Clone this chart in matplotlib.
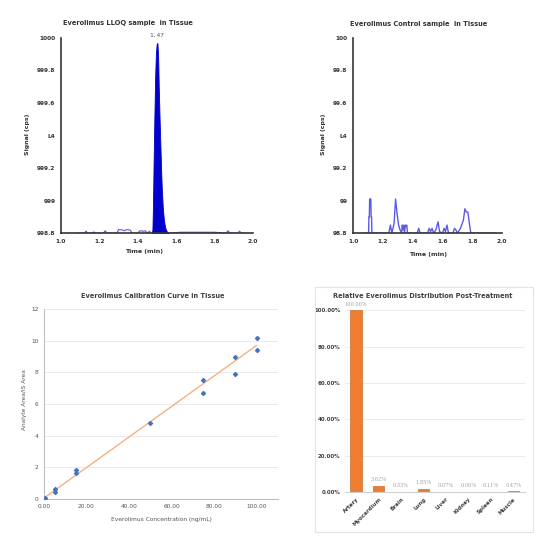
#! /usr/bin/env python3

'''Everolimus chromatograms, calibration curve and tissue distribution.'''

import numpy as np
import matplotlib
matplotlib.use('Agg')
import matplotlib.pyplot as plt
from matplotlib.patches import Rectangle

plt.rcParams['font.family'] = ['DejaVu Sans']

# LLOQ chromatogram: main peak (filled) and baseline noise (outline)
lloq_peak_t = [1.472, 1.476, 1.479, 1.482, 1.486, 1.490, 1.494, 1.498, 1.502,
               1.506, 1.509, 1.513, 1.517, 1.521, 1.525, 1.530, 1.535, 1.540,
               1.546, 1.552, 1.560]
lloq_peak_s = [998.80, 998.82, 998.98, 999.22, 999.50, 999.75, 999.90, 999.96,
               999.97, 999.88, 999.70, 999.52, 999.36, 999.20, 999.07, 998.96,
               998.89, 998.85, 998.82, 998.81, 998.80]
lloq_noise_t = [1.08, 1.12, 1.13, 1.14, 1.16, 1.17, 1.18, 1.22, 1.23, 1.24,
                1.29, 1.30, 1.32, 1.33, 1.34, 1.36, 1.37, 1.40, 1.41, 1.43,
                1.44, 1.45, 1.46, 1.47, 1.56, 1.62, 1.80, 1.86, 1.87, 1.88,
                1.92, 1.93, 1.94, 1.95]
lloq_noise_s = [998.80, 998.80, 998.812, 998.80, 998.80, 998.808, 998.80,
                998.80, 998.815, 998.80, 998.80, 998.822, 998.82, 998.815,
                998.822, 998.82, 998.80, 998.80, 998.815, 998.812, 998.815,
                998.80, 998.812, 998.80, 998.80, 998.806, 998.806, 998.80,
                998.815, 998.80, 998.80, 998.812, 998.80, 998.80]

# Control chromatogram
ctrl_t = [1.07, 1.104, 1.106, 1.109, 1.111, 1.119, 1.121, 1.124, 1.126,
          1.24, 1.25, 1.26, 1.275, 1.285, 1.295, 1.305, 1.315, 1.325, 1.33,
          1.335, 1.34, 1.345, 1.35, 1.355, 1.36, 1.365, 1.43, 1.44, 1.45,
          1.50, 1.51, 1.52, 1.53, 1.54, 1.555, 1.57, 1.58, 1.60, 1.61, 1.62,
          1.63, 1.64, 1.67, 1.68, 1.69, 1.70, 1.72, 1.74, 1.75, 1.76, 1.77,
          1.78, 1.79, 1.95]
ctrl_s = [98.80, 98.80, 98.90, 98.90, 99.01, 99.01, 98.90, 98.90, 98.80,
          98.80, 98.85, 98.80, 98.86, 99.01, 98.92, 98.85, 98.82, 98.80,
          98.85, 98.82, 98.85, 98.80, 98.85, 98.84, 98.85, 98.80, 98.80,
          98.83, 98.80, 98.80, 98.83, 98.81, 98.83, 98.80, 98.82, 98.87,
          98.81, 98.80, 98.83, 98.81, 98.85, 98.80, 98.80, 98.83, 98.82,
          98.80, 98.83, 98.88, 98.95, 98.93, 98.93, 98.86, 98.80, 98.80]

# calibration standards and the trendline
conc = [0.1, 0.5, 5, 5, 15, 15, 50, 75, 75, 90, 90, 100, 100]
ratio = [0.02, 0.08, 0.45, 0.6, 1.65, 1.8, 4.8, 7.5, 6.7, 9.0, 7.9, 10.2, 9.4]
trend_slope = 0.0965
trend_intercept = 0.05

# tissue distribution
tissues = ['Artery', 'Myocardium', 'Brain', 'Lung', 'Liver', 'Kidney',
           'Spleen', 'Muscle']
rel_pct = [100.00, 3.62, 0.33, 1.85, 0.07, 0.06, 0.11, 0.47]

chrom_ticks = ['998.8', '999', '999.2', 'L4', '999.6', '999.8', '1000']
ctrl_ticks = ['98.8', '99', '99.2', 'L4', '99.6', '99.8', '100']


def style_chrom(ax, ymin, labels):
    '''Common look of the two chromatogram panels.'''
    ax.set_xlim(1.0, 2.0)
    ax.set_ylim(ymin, ymin + 1.2)
    ax.set_xticks(np.arange(1.0, 2.01, 0.2))
    ax.set_xticklabels(['%.1f' % v for v in np.arange(1.0, 2.01, 0.2)])
    ax.set_yticks(np.linspace(ymin, ymin + 1.2, 7))
    ax.set_yticklabels(labels)
    for s in ['top', 'right']:
        ax.spines[s].set_visible(False)
    for s in ['left', 'bottom']:
        ax.spines[s].set_color('#333333')
        ax.spines[s].set_linewidth(1.2)
    ax.tick_params(length=0, labelsize=4.2, colors='#333333', pad=4)
    for lab in ax.get_xticklabels() + ax.get_yticklabels():
        lab.set_fontweight('bold')


fig = plt.figure(figsize=(5.5, 5.5), dpi=100)

# --- LLOQ sample ---
ax1 = fig.add_axes([0.111, 0.576, 0.349, 0.355])
ax1.plot(lloq_noise_t, lloq_noise_s, color='#5a5ae6', lw=0.8)
ax1.fill_between(lloq_peak_t, 998.8, lloq_peak_s, color='#0000cc', lw=0.6)
ax1.text(1.50, 1000.0, '1.47', ha='center', va='bottom', fontsize=4.5,
         color='#555555', family='DejaVu Sans Mono')
style_chrom(ax1, 998.8, chrom_ticks)
fig.text(0.233, 0.958, 'Everolimus LLOQ sample  in Tissue', ha='center',
         va='center', fontsize=4.8, fontweight='bold', color='#333333')
fig.text(0.050, 0.755, 'Signal (cps)', rotation=90, ha='center', va='center',
         fontsize=4.5, fontweight='bold', color='#333333')
fig.text(0.262, 0.542, 'Time (min)', ha='center', va='center',
         fontsize=4.5, fontweight='bold', color='#333333')

# --- Control sample ---
ax2 = fig.add_axes([0.642, 0.576, 0.271, 0.355])
ax2.plot(ctrl_t, ctrl_s, color='#5a5ae6', lw=1.0)
style_chrom(ax2, 98.8, ctrl_ticks)
fig.text(0.762, 0.956, 'Everolimus Control sample  in Tissue', ha='center',
         va='center', fontsize=4.8, fontweight='bold', color='#333333')
fig.text(0.589, 0.755, 'Signal (cps)', rotation=90, ha='center', va='center',
         fontsize=4.5, fontweight='bold', color='#333333')
fig.text(0.778, 0.538, 'Time (min)', ha='center', va='center',
         fontsize=4.5, fontweight='bold', color='#333333')

# --- Calibration curve ---
ax3 = fig.add_axes([0.080, 0.093, 0.425, 0.345])
xfit = np.array([0.0, 100.0])
ax3.plot(xfit, trend_slope * xfit + trend_intercept, color='#f4b183',
         lw=1.0, zorder=2)
ax3.scatter(conc, ratio, marker='D', s=4, color='#4472c4', zorder=3)
ax3.set_xlim(0, 110)
ax3.set_ylim(0, 12)
ax3.set_xticks(np.arange(0, 101, 20))
ax3.set_xticklabels(['%.2f' % v for v in np.arange(0, 101, 20)])
ax3.set_yticks(np.arange(0, 13, 2))
ax3.grid(axis='y', color='#e6e6e6', lw=0.6)
ax3.set_axisbelow(True)
for s in ['top', 'right']:
    ax3.spines[s].set_visible(False)
for s in ['left', 'bottom']:
    ax3.spines[s].set_color('#bfbfbf')
    ax3.spines[s].set_linewidth(0.8)
ax3.tick_params(length=0, labelsize=4.2, colors='#555555', pad=4)
fig.text(0.278, 0.462, 'Everolimus Calibration Curve in Tissue', ha='center',
         va='center', fontsize=4.8, fontweight='bold', color='#404040')
fig.text(0.293, 0.056, 'Everolimus Concentration (ng/mL)', ha='center',
         va='center', fontsize=4.2, color='#555555')
fig.text(0.045, 0.273, 'Analyte Area/IS Area', rotation=90, ha='center',
         va='center', fontsize=4.2, color='#555555')

# --- Distribution bars ---
fig.patches.append(Rectangle((0.573, 0.033), 0.396, 0.445,
                             transform=fig.transFigure, fill=False,
                             edgecolor='#e4e4e4', lw=0.8))
ax4 = fig.add_axes([0.627, 0.105, 0.327, 0.331])
xpos = np.arange(len(tissues))
bars = ax4.bar(xpos, rel_pct, width=0.5, color='#ed7d31',
               edgecolor='#c55a11', lw=0.4, zorder=3)
for b, v in zip(bars, rel_pct):
    ax4.text(b.get_x() + b.get_width() / 2, v + 2, '%.2f%%' % v,
             ha='center', va='bottom', fontsize=3.6, color='#a0a0a0',
             family='DejaVu Serif')
ax4.set_xlim(-0.5, len(tissues) - 0.5)
ax4.set_ylim(0, 100)
ax4.set_yticks(np.arange(0, 101, 20))
ax4.set_yticklabels(['%.2f%%' % v for v in np.arange(0, 101, 20)])
ax4.set_xticks(xpos)
ax4.set_xticklabels(tissues, rotation=45, ha='right', rotation_mode='anchor')
ax4.grid(axis='y', color='#e6e6e6', lw=0.6, zorder=0)
for s in ['top', 'right', 'left']:
    ax4.spines[s].set_visible(False)
ax4.spines['bottom'].set_color('#d0d0d0')
ax4.tick_params(length=0, labelsize=4.0, colors='#404040', pad=3)
for lab in ax4.get_xticklabels() + ax4.get_yticklabels():
    lab.set_fontweight('bold')
fig.text(0.769, 0.462, 'Relative Everolimus Distribution Post-Treatment',
         ha='center', va='center', fontsize=4.8, fontweight='bold',
         color='#404040')

fig.savefig('out.png', dpi=100, facecolor='white')
